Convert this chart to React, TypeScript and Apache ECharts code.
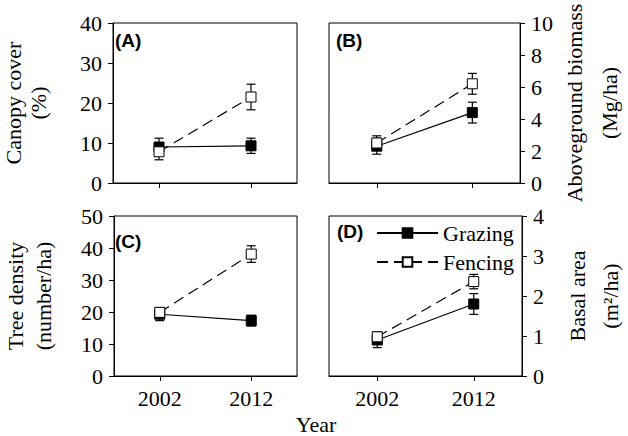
import React, { useEffect, useRef } from "react";
import * as echarts from "echarts";

const years = ["2002", "2012"];

const canopyGrazing = [9.0, 9.3];
const canopyGrazingErr = [2.2, 1.9];
const canopyFencing = [7.8, 21.5];
const canopyFencingErr = [2.0, 3.2];

const biomassGrazing = [2.3, 4.4];
const biomassGrazingErr = [0.5, 0.65];
const biomassFencing = [2.5, 6.2];
const biomassFencingErr = [0.45, 0.65];

const densityGrazing = [19.3, 17.3];
const densityGrazingErr = [2.0, 1.7];
const densityFencing = [19.9, 38.1];
const densityFencingErr = [1.2, 2.6];

const basalGrazing = [0.9, 1.8];
const basalGrazingErr = [0.19, 0.26];
const basalFencing = [0.98, 2.36];
const basalFencingErr = [0.12, 0.18];

const panelLabels = ["(A)", "(B)", "(C)", "(D)"];
const yNames = [
  "Canopy cover\n(%)",
  "Aboveground biomass\n(Mg/ha)",
  "Tree density\n(number/ha)",
  "Basal area\n(m²/ha)",
];
const yMax = [40, 10, 50, 4];
const yInterval = [10, 2, 10, 1];

const SERIF = "Liberation Serif";
const SANS = "Liberation Sans";

export default function App() {
  const ref = useRef<HTMLDivElement>(null);

  useEffect(() => {
    if (!ref.current) return;
    const chart = echarts.init(ref.current, undefined, { renderer: "svg" });

    const grids = [
      { left: 104, top: 23, width: 193, height: 160 },
      { left: 329, top: 23, width: 194, height: 160 },
      { left: 104, top: 216, width: 193, height: 160 },
      { left: 329, top: 216, width: 194, height: 160 },
    ].map((g) => ({
      ...g,
      show: true,
      borderColor: "#000",
      borderWidth: 1,
      backgroundColor: "transparent",
    }));

    const xAxes = [0, 1, 2, 3].map((i) => ({
      type: "category",
      gridIndex: i,
      data: years,
      boundaryGap: true,
      axisLine: { show: true, lineStyle: { color: "#000", width: 1 } },
      axisTick: { show: true, alignWithLabel: true, length: 5, lineStyle: { color: "#000" } },
      axisLabel: {
        show: i >= 2,
        color: "#000",
        fontFamily: SERIF,
        fontSize: 22,
        margin: 11,
      },
      splitLine: { show: false },
    }));

    const nameLH = [25, 35, 28, 33];
    const nameGaps = [62, 35, 57, 39];
    const yAxes = [0, 1, 2, 3].map((i) => ({
      type: "value",
      gridIndex: i,
      position: i % 2 === 0 ? "left" : "right",
      min: 0,
      max: yMax[i],
      interval: yInterval[i],
      name: yNames[i],
      nameLocation: "middle",
      nameRotate: 90,
      nameGap: nameGaps[i],
      nameTextStyle: {
        color: "#000",
        fontFamily: SERIF,
        fontSize: 22,
        lineHeight: nameLH[i],
      },
      axisLine: { show: true, lineStyle: { color: "#000", width: 1 } },
      axisTick: { show: true, length: 5, lineStyle: { color: "#000" } },
      axisLabel: {
        color: "#000",
        fontFamily: SERIF,
        fontSize: 22,
        margin: 11,
      },
      splitLine: { show: false },
    }));

    const groups = [
      [canopyGrazing, canopyGrazingErr, canopyFencing, canopyFencingErr],
      [biomassGrazing, biomassGrazingErr, biomassFencing, biomassFencingErr],
      [densityGrazing, densityGrazingErr, densityFencing, densityFencingErr],
      [basalGrazing, basalGrazingErr, basalFencing, basalFencingErr],
    ];

    const errRender = (params: any, api: any) => {
      const x = api.value(0);
      const lo = api.coord([x, api.value(1)]);
      const hi = api.coord([x, api.value(2)]);
      const w = 4.5;
      const st = { stroke: "#000", lineWidth: 1.2 };
      return {
        type: "group",
        children: [
          { type: "line", shape: { x1: hi[0], y1: hi[1], x2: lo[0], y2: lo[1] }, style: st },
          { type: "line", shape: { x1: hi[0] - w, y1: hi[1], x2: hi[0] + w, y2: hi[1] }, style: st },
          { type: "line", shape: { x1: lo[0] - w, y1: lo[1], x2: lo[0] + w, y2: lo[1] }, style: st },
        ],
      };
    };

    const series: any[] = [];
    groups.forEach(([g, ge, f, fe], i) => {
      series.push({
        type: "custom",
        name: "errG" + i,
        xAxisIndex: i,
        yAxisIndex: i,
        z: 1,
        renderItem: errRender,
        encode: { x: 0, y: [1, 2] },
        data: g.map((v, k) => [k, v - ge[k], v + ge[k]]),
      });
      series.push({
        type: "custom",
        name: "errF" + i,
        xAxisIndex: i,
        yAxisIndex: i,
        z: 1,
        renderItem: errRender,
        encode: { x: 0, y: [1, 2] },
        data: f.map((v, k) => [k, v - fe[k], v + fe[k]]),
      });
      series.push({
        type: "line",
        name: "Grazing",
        xAxisIndex: i,
        yAxisIndex: i,
        z: 2,
        data: g,
        symbol: "rect",
        symbolSize: 10,
        lineStyle: { color: "#000", width: 1.2, type: "solid" },
        itemStyle: { color: "#000", borderColor: "#000", borderWidth: 1 },
      });
      series.push({
        type: "line",
        name: "Fencing",
        xAxisIndex: i,
        yAxisIndex: i,
        z: 3,
        data: f,
        symbol: "rect",
        symbolSize: 10,
        lineStyle: { color: "#000", width: 1.2, type: [11, 6] },
        itemStyle: { color: "#fff", borderColor: "#000", borderWidth: 1 },
      });
    });

    const labelPos = [
      [115, 42],
      [336, 42],
      [115, 243],
      [337, 233],
    ];

    const option: any = {
      animation: false,
      backgroundColor: "#fff",
      textStyle: { fontFamily: SERIF, color: "#000" },
      grid: grids,
      xAxis: xAxes,
      yAxis: yAxes,
      series,
      legend: {
        data: ["Grazing", "Fencing"],
        orient: "vertical",
        left: 376,
        top: 222,
        padding: 0,
        itemWidth: 61,
        itemHeight: 12,
        itemGap: 7,
        selectedMode: false,
        textStyle: { color: "#000", fontFamily: SERIF, fontSize: 22, lineHeight: 22 },
      },
      graphic: [
        ...panelLabels.map((t, i) => ({
          type: "text",
          left: labelPos[i][0],
          top: labelPos[i][1] - 11,
          style: {
            text: t,
            fontFamily: SANS,
            fontWeight: "bold",
            fontSize: 19,
            fill: "#000",
          },
        })),
        {
          type: "text",
          x: 316,
          y: 424,
          style: {
            text: "Year",
            fontFamily: SERIF,
            fontSize: 22,
            fill: "#000",
            textAlign: "center",
            textVerticalAlign: "middle",
          },
        },
      ],
    };

    chart.setOption(option);
    return () => chart.dispose();
  }, []);

  return (
    <div
      ref={ref}
      style={{ position: "absolute", left: 0, top: 0, width: 628, height: 436 }}
    />
  );
}
